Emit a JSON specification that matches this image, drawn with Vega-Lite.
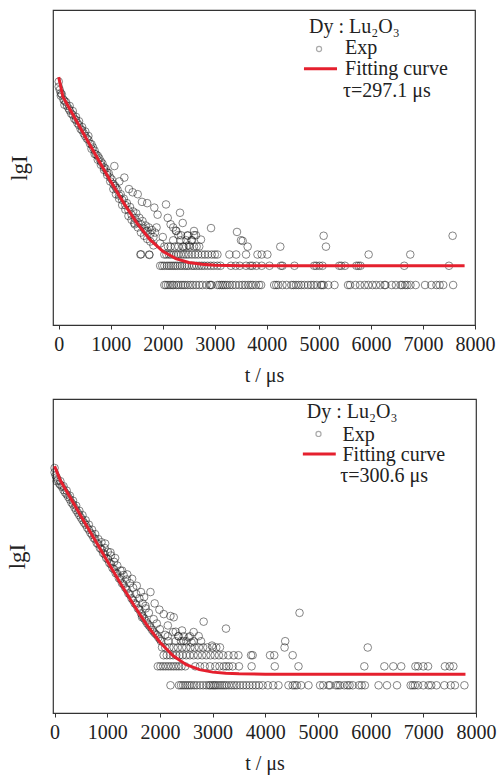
{
"$schema": "https://vega.github.io/schema/vega-lite/v6.json",
"padding": {"left": 5, "top": 9, "right": 4, "bottom": 4},
"background": "white",
"spacing": 12,
"config": {
  "font": "Liberation Serif",
  "view": {"stroke": "#333", "strokeWidth": 1.2},
  "axis": {"grid": false, "labelFont": "Liberation Serif", "titleFont": "Liberation Serif", "labelFontSize": 20, "titleFontSize": 20, "titleFontWeight": "normal", "labelColor": "#222", "titleColor": "#222", "domainColor": "#333", "tickColor": "#333"}
},
"datasets": {
"topPts": [
{"t":0,"lg":3.18},{"t":0,"lg":3.10},{"t":20,"lg":3.05},{"t":40,"lg":3.0},{"t":40,"lg":2.96},{"t":60,"lg":2.98},{"t":90,"lg":2.90},{"t":110,"lg":2.88},{"t":110,"lg":2.82},{"t":140,"lg":2.86},{"t":160,"lg":2.80},{"t":190,"lg":2.76},{"t":210,"lg":2.73},{"t":210,"lg":2.80},{"t":240,"lg":2.68},{"t":270,"lg":2.66},{"t":270,"lg":2.72},{"t":300,"lg":2.60},{"t":330,"lg":2.58},{"t":330,"lg":2.63},{"t":360,"lg":2.53},{"t":390,"lg":2.50},{"t":390,"lg":2.56},{"t":420,"lg":2.44},{"t":450,"lg":2.42},{"t":450,"lg":2.47},{"t":480,"lg":2.37},{"t":510,"lg":2.33},{"t":510,"lg":2.40},{"t":540,"lg":2.29},{"t":570,"lg":2.27},{"t":570,"lg":2.33},{"t":600,"lg":2.21},{"t":630,"lg":2.20},{"t":630,"lg":2.13},{"t":660,"lg":2.15},{"t":690,"lg":2.10},{"t":690,"lg":2.05},{"t":720,"lg":2.04},{"t":750,"lg":2.02},{"t":750,"lg":1.96},{"t":780,"lg":1.98},{"t":810,"lg":1.93},{"t":810,"lg":1.88},{"t":840,"lg":1.90},{"t":870,"lg":1.84},{"t":870,"lg":1.80},{"t":900,"lg":1.82},{"t":930,"lg":1.76},{"t":930,"lg":1.72},{"t":960,"lg":1.75},{"t":990,"lg":1.68},{"t":990,"lg":1.62},{"t":1020,"lg":1.65},{"t":1050,"lg":1.58},{"t":1050,"lg":1.50},{"t":1080,"lg":1.55},{"t":1100,"lg":1.52},{"t":1100,"lg":1.42},{"t":1130,"lg":1.49},{"t":1160,"lg":1.40},{"t":1160,"lg":1.35},{"t":1190,"lg":1.42},{"t":1220,"lg":1.33},{"t":1220,"lg":1.25},{"t":1250,"lg":1.35},{"t":1280,"lg":1.25},{"t":1280,"lg":1.18},{"t":1310,"lg":1.28},{"t":1340,"lg":1.17},{"t":1340,"lg":1.08},{"t":1370,"lg":1.22},{"t":1400,"lg":1.10},{"t":1400,"lg":1.02},{"t":1430,"lg":1.15},{"t":1460,"lg":1.05},{"t":1460,"lg":0.95},{"t":1490,"lg":1.12},{"t":1520,"lg":0.98},{"t":1520,"lg":0.90},{"t":1550,"lg":1.05},{"t":1580,"lg":0.95},{"t":1580,"lg":0.82},{"t":1610,"lg":1.00},{"t":1640,"lg":0.88},{"t":1640,"lg":0.77},{"t":1670,"lg":0.93},{"t":1700,"lg":0.85},{"t":1700,"lg":0.72},{"t":1730,"lg":0.90},{"t":1760,"lg":0.80},{"t":1760,"lg":0.68},{"t":1790,"lg":0.86},{"t":1820,"lg":0.75},{"t":1820,"lg":0.62},{"t":1850,"lg":0.82},
{"t":1069,"lg":1.86},{"t":1165,"lg":1.62},{"t":1261,"lg":1.68},{"t":1350,"lg":1.50},{"t":1420,"lg":1.45},{"t":1518,"lg":1.42},{"t":1600,"lg":1.30},{"t":1700,"lg":1.28},{"t":1837,"lg":1.21},{"t":1900,"lg":1.10},{"t":2062,"lg":1.26},{"t":2095,"lg":1.05},{"t":2150,"lg":0.95},{"t":2200,"lg":0.90},{"t":2331,"lg":1.13},{"t":2383,"lg":0.97},{"t":2250,"lg":0.85},{"t":2300,"lg":0.78},{"t":2479,"lg":0.77},{"t":2550,"lg":0.70},{"t":2600,"lg":0.78},{"t":2734,"lg":0.71},{"t":2927,"lg":0.89},{"t":3426,"lg":0.83},{"t":3503,"lg":0.70},{"t":1677,"lg":0.84},{"t":1453,"lg":0.97},{"t":1582,"lg":0.48},{"t":1742,"lg":0.47},{"t":1950,"lg":0.65},{"t":2000,"lg":0.75},{"t":1880,"lg":0.90},{"t":2400,"lg":0.60},{"t":2500,"lg":0.62},{"t":3535,"lg":0.69},{"t":3631,"lg":0.60},{"t":4258,"lg":0.60},{"t":5091,"lg":0.77},{"t":5136,"lg":0.60},{"t":7570,"lg":0.77},{"t":5956,"lg":0.477},{"t":6756,"lg":0.477},
{"t":2030,"lg":0},{"t":2060,"lg":0},{"t":2100,"lg":0},{"t":2140,"lg":0},{"t":2180,"lg":0},{"t":2210,"lg":0},{"t":2260,"lg":0},{"t":2300,"lg":0},{"t":2350,"lg":0},{"t":2390,"lg":0},{"t":2430,"lg":0},{"t":2480,"lg":0},{"t":2530,"lg":0},{"t":2580,"lg":0},{"t":2640,"lg":0},{"t":2700,"lg":0},{"t":2760,"lg":0},{"t":2840,"lg":0},{"t":2900,"lg":0},{"t":2920,"lg":0},{"t":2940,"lg":0},{"t":3050,"lg":0},{"t":3090,"lg":0},{"t":3130,"lg":0},{"t":3160,"lg":0},{"t":3200,"lg":0},{"t":3240,"lg":0},{"t":3290,"lg":0},{"t":3340,"lg":0},{"t":3400,"lg":0},{"t":3470,"lg":0},{"t":3530,"lg":0},{"t":3580,"lg":0},{"t":3640,"lg":0},{"t":3690,"lg":0},{"t":3730,"lg":0},{"t":3790,"lg":0},{"t":3850,"lg":0},{"t":3890,"lg":0},{"t":4140,"lg":0},{"t":4180,"lg":0},{"t":4220,"lg":0},{"t":4300,"lg":0},{"t":4380,"lg":0},{"t":4470,"lg":0},{"t":4510,"lg":0},{"t":4560,"lg":0},{"t":4610,"lg":0},{"t":4660,"lg":0},{"t":4720,"lg":0},{"t":4790,"lg":0},{"t":4850,"lg":0},{"t":4900,"lg":0},{"t":4960,"lg":0},{"t":5040,"lg":0},{"t":5060,"lg":0},{"t":5090,"lg":0},{"t":5180,"lg":0},{"t":5300,"lg":0},{"t":5560,"lg":0},{"t":5600,"lg":0},{"t":5700,"lg":0},{"t":5790,"lg":0},{"t":5880,"lg":0},{"t":5950,"lg":0},{"t":6030,"lg":0},{"t":6100,"lg":0},{"t":6180,"lg":0},{"t":6260,"lg":0},{"t":6280,"lg":0},{"t":6400,"lg":0},{"t":6480,"lg":0},{"t":6570,"lg":0},{"t":6600,"lg":0},{"t":6660,"lg":0},{"t":6700,"lg":0},{"t":6760,"lg":0},{"t":6860,"lg":0},{"t":7040,"lg":0},{"t":7160,"lg":0},{"t":7260,"lg":0},{"t":7320,"lg":0},{"t":7390,"lg":0},{"t":7580,"lg":0},
{"t":1950,"lg":0.301},{"t":1990,"lg":0.301},{"t":2030,"lg":0.301},{"t":2080,"lg":0.301},{"t":2120,"lg":0.301},{"t":2160,"lg":0.301},{"t":2200,"lg":0.301},{"t":2240,"lg":0.301},{"t":2280,"lg":0.301},{"t":2330,"lg":0.301},{"t":2370,"lg":0.301},{"t":2420,"lg":0.301},{"t":2460,"lg":0.301},{"t":2500,"lg":0.301},{"t":2560,"lg":0.301},{"t":2600,"lg":0.301},{"t":2650,"lg":0.301},{"t":2700,"lg":0.301},{"t":2750,"lg":0.301},{"t":2800,"lg":0.301},{"t":2860,"lg":0.301},{"t":2920,"lg":0.301},{"t":2980,"lg":0.301},{"t":3050,"lg":0.301},{"t":3110,"lg":0.301},{"t":3310,"lg":0.301},{"t":3400,"lg":0.301},{"t":3480,"lg":0.301},{"t":3600,"lg":0.301},{"t":3680,"lg":0.301},{"t":3720,"lg":0.301},{"t":3800,"lg":0.301},{"t":3900,"lg":0.301},{"t":4050,"lg":0.301},{"t":4270,"lg":0.301},{"t":4300,"lg":0.301},{"t":4530,"lg":0.301},{"t":4910,"lg":0.301},{"t":4950,"lg":0.301},{"t":5010,"lg":0.301},{"t":5070,"lg":0.301},{"t":5390,"lg":0.301},{"t":5430,"lg":0.301},{"t":5500,"lg":0.301},{"t":5720,"lg":0.301},{"t":5760,"lg":0.301},{"t":5800,"lg":0.301},{"t":6640,"lg":0.301},{"t":7500,"lg":0.301},
{"t":1570,"lg":0.477},{"t":1740,"lg":0.477},{"t":2030,"lg":0.477},{"t":2070,"lg":0.477},{"t":2120,"lg":0.477},{"t":2160,"lg":0.477},{"t":2210,"lg":0.477},{"t":2260,"lg":0.477},{"t":2300,"lg":0.477},{"t":2350,"lg":0.477},{"t":2400,"lg":0.477},{"t":2450,"lg":0.477},{"t":2500,"lg":0.477},{"t":2560,"lg":0.477},{"t":2620,"lg":0.477},{"t":2680,"lg":0.477},{"t":2750,"lg":0.477},{"t":2810,"lg":0.477},{"t":2870,"lg":0.477},{"t":2940,"lg":0.477},{"t":3000,"lg":0.477},{"t":3050,"lg":0.477},{"t":3280,"lg":0.477},{"t":3410,"lg":0.477},{"t":3600,"lg":0.477},{"t":3820,"lg":0.477},{"t":3900,"lg":0.477},{"t":4010,"lg":0.477},
{"t":2030,"lg":0.602},{"t":2100,"lg":0.602},{"t":2150,"lg":0.602},{"t":2230,"lg":0.602},{"t":2300,"lg":0.602},{"t":2380,"lg":0.602},{"t":2450,"lg":0.602},{"t":2520,"lg":0.602},{"t":2600,"lg":0.602},{"t":2650,"lg":0.602},{"t":2700,"lg":0.602},
{"t":2200,"lg":0.699},{"t":2340,"lg":0.699},{"t":2450,"lg":0.699},{"t":2560,"lg":0.699},
{"t":2350,"lg":0.778},{"t":2478,"lg":0.778},{"t":2638,"lg":0.778},{"t":2260,"lg":0.845},{"t":2600,"lg":0.845}
],
"topFit": [
{"t":0,"lg":3.25},{"t":80,"lg":2.944},{"t":250,"lg":2.696},{"t":500,"lg":2.333},{"t":750,"lg":1.973},{"t":1000,"lg":1.620},{"t":1250,"lg":1.281},{"t":1500,"lg":0.972},{"t":1750,"lg":0.714},{"t":2000,"lg":0.528},{"t":2250,"lg":0.413},{"t":2500,"lg":0.353},{"t":2750,"lg":0.324},{"t":3000,"lg":0.311},{"t":3500,"lg":0.303},{"t":4000,"lg":0.301},{"t":5000,"lg":0.301},{"t":7800,"lg":0.301}
],
"botPts": [
{"t":0,"lg":3.45},{"t":0,"lg":3.38},{"t":20,"lg":3.33},{"t":40,"lg":3.30},{"t":40,"lg":3.24},{"t":60,"lg":3.26},{"t":90,"lg":3.20},{"t":110,"lg":3.18},{"t":110,"lg":3.24},{"t":140,"lg":3.15},{"t":170,"lg":3.10},{"t":170,"lg":3.16},{"t":200,"lg":3.06},{"t":230,"lg":3.03},{"t":230,"lg":3.09},{"t":260,"lg":2.99},{"t":290,"lg":2.95},{"t":290,"lg":3.01},{"t":320,"lg":2.90},{"t":350,"lg":2.87},{"t":350,"lg":2.93},{"t":380,"lg":2.82},{"t":410,"lg":2.78},{"t":410,"lg":2.85},{"t":440,"lg":2.74},{"t":470,"lg":2.70},{"t":470,"lg":2.77},{"t":500,"lg":2.66},{"t":530,"lg":2.62},{"t":530,"lg":2.70},{"t":560,"lg":2.58},{"t":590,"lg":2.55},{"t":590,"lg":2.62},{"t":620,"lg":2.50},{"t":650,"lg":2.47},{"t":650,"lg":2.55},{"t":680,"lg":2.42},{"t":710,"lg":2.39},{"t":710,"lg":2.47},{"t":740,"lg":2.34},{"t":770,"lg":2.32},{"t":770,"lg":2.40},{"t":800,"lg":2.26},{"t":830,"lg":2.24},{"t":830,"lg":2.32},{"t":860,"lg":2.18},{"t":890,"lg":2.16},{"t":890,"lg":2.27},{"t":920,"lg":2.10},{"t":950,"lg":2.08},{"t":950,"lg":2.18},{"t":980,"lg":2.02},{"t":1010,"lg":2.00},{"t":1010,"lg":2.12},{"t":1040,"lg":1.94},{"t":1070,"lg":1.92},{"t":1070,"lg":2.06},{"t":1100,"lg":1.86},{"t":1130,"lg":1.84},{"t":1130,"lg":1.96},{"t":1160,"lg":1.78},{"t":1190,"lg":1.77},{"t":1190,"lg":1.90},{"t":1220,"lg":1.70},{"t":1250,"lg":1.68},{"t":1250,"lg":1.82},{"t":1280,"lg":1.62},{"t":1310,"lg":1.60},{"t":1310,"lg":1.75},{"t":1340,"lg":1.55},{"t":1370,"lg":1.52},{"t":1370,"lg":1.68},{"t":1400,"lg":1.46},{"t":1430,"lg":1.44},{"t":1430,"lg":1.62},{"t":1460,"lg":1.38},{"t":1490,"lg":1.35},{"t":1490,"lg":1.55},{"t":1520,"lg":1.30},{"t":1550,"lg":1.28},{"t":1550,"lg":1.45},{"t":1580,"lg":1.22},{"t":1610,"lg":1.20},{"t":1610,"lg":1.38},{"t":1640,"lg":1.14},{"t":1670,"lg":1.10},{"t":1670,"lg":1.30},{"t":1700,"lg":1.06},{"t":1730,"lg":1.02},{"t":1730,"lg":1.22},{"t":1760,"lg":0.98},{"t":1790,"lg":0.95},{"t":1790,"lg":1.15},{"t":1820,"lg":0.92},{"t":1820,"lg":1.48},{"t":1850,"lg":0.88},{"t":1880,"lg":0.85},{"t":1880,"lg":1.05},{"t":1910,"lg":0.82},{"t":1940,"lg":0.80},{"t":1940,"lg":0.98},{"t":1970,"lg":0.76},{"t":2000,"lg":0.73},{"t":2000,"lg":0.89},
{"t":960,"lg":2.25},{"t":1061,"lg":2.11},{"t":1150,"lg":2.02},{"t":1282,"lg":1.82},{"t":1380,"lg":1.76},{"t":1472,"lg":1.69},{"t":1560,"lg":1.58},{"t":1640,"lg":1.48},{"t":1700,"lg":1.40},{"t":1900,"lg":1.30},{"t":1990,"lg":1.20},{"t":1725,"lg":1.26},{"t":1661,"lg":1.08},{"t":2072,"lg":1.13},{"t":2100,"lg":0.80},{"t":2150,"lg":0.95},{"t":2199,"lg":1.10},{"t":2262,"lg":1.08},{"t":2300,"lg":0.85},{"t":2350,"lg":0.78},{"t":2419,"lg":0.87},{"t":2450,"lg":0.70},{"t":2546,"lg":0.76},{"t":2600,"lg":0.68},{"t":2736,"lg":0.78},{"t":2830,"lg":1.01},{"t":2988,"lg":0.63},{"t":3254,"lg":0.90},{"t":4650,"lg":1.15},{"t":4378,"lg":0.70},{"t":4366,"lg":0.60},{"t":5945,"lg":0.60},
{"t":2200,"lg":0},{"t":2360,"lg":0},{"t":2400,"lg":0},{"t":2440,"lg":0},{"t":2480,"lg":0},{"t":2520,"lg":0},{"t":2560,"lg":0},{"t":2600,"lg":0},{"t":2650,"lg":0},{"t":2700,"lg":0},{"t":2760,"lg":0},{"t":2820,"lg":0},{"t":2880,"lg":0},{"t":2930,"lg":0},{"t":2960,"lg":0},{"t":3000,"lg":0},{"t":3030,"lg":0},{"t":3060,"lg":0},{"t":3100,"lg":0},{"t":3140,"lg":0},{"t":3180,"lg":0},{"t":3220,"lg":0},{"t":3260,"lg":0},{"t":3310,"lg":0},{"t":3360,"lg":0},{"t":3410,"lg":0},{"t":3460,"lg":0},{"t":3520,"lg":0},{"t":3580,"lg":0},{"t":3640,"lg":0},{"t":3700,"lg":0},{"t":3760,"lg":0},{"t":3820,"lg":0},{"t":3880,"lg":0},{"t":3950,"lg":0},{"t":4050,"lg":0},{"t":4150,"lg":0},{"t":4250,"lg":0},{"t":4440,"lg":0},{"t":4520,"lg":0},{"t":4560,"lg":0},{"t":4600,"lg":0},{"t":4680,"lg":0},{"t":4820,"lg":0},{"t":5040,"lg":0},{"t":5100,"lg":0},{"t":5200,"lg":0},{"t":5230,"lg":0},{"t":5340,"lg":0},{"t":5380,"lg":0},{"t":5420,"lg":0},{"t":5500,"lg":0},{"t":5560,"lg":0},{"t":5600,"lg":0},{"t":5660,"lg":0},{"t":5780,"lg":0},{"t":5830,"lg":0},{"t":5890,"lg":0},{"t":6150,"lg":0},{"t":6310,"lg":0},{"t":6500,"lg":0},{"t":6760,"lg":0},{"t":6800,"lg":0},{"t":6840,"lg":0},{"t":6900,"lg":0},{"t":7000,"lg":0},{"t":7100,"lg":0},{"t":7150,"lg":0},{"t":7250,"lg":0},{"t":7400,"lg":0},{"t":7520,"lg":0},{"t":7600,"lg":0},{"t":7780,"lg":0},
{"t":1960,"lg":0.301},{"t":2010,"lg":0.301},{"t":2060,"lg":0.301},{"t":2110,"lg":0.301},{"t":2160,"lg":0.301},{"t":2210,"lg":0.301},{"t":2260,"lg":0.301},{"t":2310,"lg":0.301},{"t":2360,"lg":0.301},{"t":2410,"lg":0.301},{"t":2480,"lg":0.301},{"t":2670,"lg":0.301},{"t":2760,"lg":0.301},{"t":2850,"lg":0.301},{"t":2950,"lg":0.301},{"t":3050,"lg":0.301},{"t":3130,"lg":0.301},{"t":3210,"lg":0.301},{"t":3260,"lg":0.301},{"t":3310,"lg":0.301},{"t":3380,"lg":0.301},{"t":3500,"lg":0.301},{"t":3740,"lg":0.301},{"t":4180,"lg":0.301},{"t":4630,"lg":0.301},{"t":5880,"lg":0.301},{"t":6260,"lg":0.301},{"t":6430,"lg":0.301},{"t":6580,"lg":0.301},{"t":6850,"lg":0.301},{"t":6900,"lg":0.301},{"t":7000,"lg":0.301},{"t":7090,"lg":0.301},{"t":7410,"lg":0.301},{"t":7500,"lg":0.301},{"t":7570,"lg":0.301},
{"t":2070,"lg":0.477},{"t":2130,"lg":0.477},{"t":2190,"lg":0.477},{"t":2250,"lg":0.477},{"t":2310,"lg":0.477},{"t":2370,"lg":0.477},{"t":2430,"lg":0.477},{"t":2500,"lg":0.477},{"t":2570,"lg":0.477},{"t":2640,"lg":0.477},{"t":2720,"lg":0.477},{"t":2800,"lg":0.477},{"t":2880,"lg":0.477},{"t":2960,"lg":0.477},{"t":3040,"lg":0.477},{"t":3120,"lg":0.477},{"t":3200,"lg":0.477},{"t":3300,"lg":0.477},{"t":3400,"lg":0.477},{"t":3490,"lg":0.477},{"t":3730,"lg":0.477},{"t":3760,"lg":0.477},{"t":4090,"lg":0.477},{"t":4170,"lg":0.477},{"t":4520,"lg":0.477},
{"t":2040,"lg":0.602},{"t":2100,"lg":0.602},{"t":2180,"lg":0.602},{"t":2260,"lg":0.602},{"t":2340,"lg":0.602},{"t":2420,"lg":0.602},{"t":2500,"lg":0.602},{"t":2580,"lg":0.602},{"t":2660,"lg":0.602},{"t":2740,"lg":0.602},{"t":2820,"lg":0.602},{"t":2900,"lg":0.602},{"t":3000,"lg":0.602},{"t":3070,"lg":0.602},{"t":3140,"lg":0.602},
{"t":2020,"lg":0.699},{"t":2160,"lg":0.699},{"t":2300,"lg":0.699},{"t":2400,"lg":0.699},{"t":2500,"lg":0.699},{"t":2640,"lg":0.699},{"t":2780,"lg":0.699},
{"t":2150,"lg":0.778},{"t":2350,"lg":0.778},{"t":2450,"lg":0.778},{"t":2570,"lg":0.778},{"t":2250,"lg":0.845},{"t":2640,"lg":0.845}
],
"botFit": [
{"t":0,"lg":3.48},{"t":110,"lg":3.251},{"t":250,"lg":3.049},{"t":500,"lg":2.689},{"t":750,"lg":2.330},{"t":1000,"lg":1.972},{"t":1250,"lg":1.620},{"t":1500,"lg":1.279},{"t":1750,"lg":0.960},{"t":2000,"lg":0.683},{"t":2250,"lg":0.469},{"t":2500,"lg":0.328},{"t":2750,"lg":0.249},{"t":3000,"lg":0.209},{"t":3250,"lg":0.191},{"t":3500,"lg":0.183},{"t":4000,"lg":0.177},{"t":5000,"lg":0.176},{"t":7800,"lg":0.176}
]
},
"vconcat": [
{
  "width": 422, "height": 315,
  "encoding": {
    "x": {"type": "quantitative", "scale": {"domain": [-110, 8000], "nice": false, "zero": false},
      "axis": {"title": "t / μs", "format": "d", "values": [0,1000,2000,3000,4000,5000,6000,7000,8000], "tickSize": 4, "labelPadding": 5, "titlePadding": 11, "labelFlush": false}},
    "y": {"type": "quantitative", "scale": {"domain": [-0.625, 4.3], "nice": false, "zero": false},
      "axis": {"title": "lgI", "titleFontSize": 23, "labels": false, "ticks": false, "domain": false, "titlePadding": 22}}
  },
  "layer": [
    {"data": {"name": "topPts"}, "mark": {"type": "point", "shape": "circle", "filled": false, "size": 58, "stroke": "#1a1a1a", "strokeWidth": 1, "strokeOpacity": 0.75},
     "encoding": {"x": {"field": "t", "type": "quantitative"}, "y": {"field": "lg", "type": "quantitative"}}},
    {"data": {"name": "topFit"}, "mark": {"type": "line", "color": "#e5202e", "strokeWidth": 3},
     "encoding": {"x": {"field": "t", "type": "quantitative"}, "y": {"field": "lg", "type": "quantitative"}}},
    {"data": {"values": [{}]}, "mark": {"type": "text", "text": "Dy : Lu₂O₃", "align": "left", "baseline": "middle", "fontSize": 20, "color": "#222"},
     "encoding": {"x": {"datum": 4811}, "y": {"datum": 4.04}}},
    {"data": {"values": [{}]}, "mark": {"type": "point", "shape": "circle", "filled": false, "size": 26, "stroke": "#888", "strokeWidth": 1.2},
     "encoding": {"x": {"datum": 5003}, "y": {"datum": 3.69}}},
    {"data": {"values": [{}]}, "mark": {"type": "text", "text": "Exp", "align": "left", "baseline": "middle", "fontSize": 20, "color": "#222"},
     "encoding": {"x": {"datum": 5502}, "y": {"datum": 3.71}}},
    {"data": {"values": [{}]}, "mark": {"type": "rule", "color": "#e5202e", "strokeWidth": 3},
     "encoding": {"x": {"datum": 4713}, "x2": {"datum": 5348}, "y": {"datum": 3.38}}},
    {"data": {"values": [{}]}, "mark": {"type": "text", "text": "Fitting curve", "align": "left", "baseline": "middle", "fontSize": 20, "color": "#222"},
     "encoding": {"x": {"datum": 5502}, "y": {"datum": 3.375}}},
    {"data": {"values": [{}]}, "mark": {"type": "text", "text": "τ=297.1  μs", "align": "left", "baseline": "middle", "fontSize": 20, "color": "#222"},
     "encoding": {"x": {"datum": 5463}, "y": {"datum": 3.03}}}
  ]
},
{
  "width": 423, "height": 314,
  "encoding": {
    "x": {"type": "quantitative", "scale": {"domain": [-30, 8000], "nice": false, "zero": false},
      "axis": {"title": "t / μs", "format": "d", "values": [0,1000,2000,3000,4000,5000,6000,7000,8000], "tickSize": 4, "labelPadding": 5, "titlePadding": 11, "labelFlush": false}},
    "y": {"type": "quantitative", "scale": {"domain": [-0.44, 4.545], "nice": false, "zero": false},
      "axis": {"title": "lgI", "titleFontSize": 23, "labels": false, "ticks": false, "domain": false, "titlePadding": 24}}
  },
  "layer": [
    {"data": {"name": "botPts"}, "mark": {"type": "point", "shape": "circle", "filled": false, "size": 58, "stroke": "#1a1a1a", "strokeWidth": 1, "strokeOpacity": 0.75},
     "encoding": {"x": {"field": "t", "type": "quantitative"}, "y": {"field": "lg", "type": "quantitative"}}},
    {"data": {"name": "botFit"}, "mark": {"type": "line", "color": "#e5202e", "strokeWidth": 3},
     "encoding": {"x": {"field": "t", "type": "quantitative"}, "y": {"field": "lg", "type": "quantitative"}}},
    {"data": {"values": [{}]}, "mark": {"type": "text", "text": "Dy : Lu₂O₃", "align": "left", "baseline": "middle", "fontSize": 20, "color": "#222"},
     "encoding": {"x": {"datum": 4789}, "y": {"datum": 4.34}}},
    {"data": {"values": [{}]}, "mark": {"type": "point", "shape": "circle", "filled": false, "size": 26, "stroke": "#888", "strokeWidth": 1.2},
     "encoding": {"x": {"datum": 5010}, "y": {"datum": 3.99}}},
    {"data": {"values": [{}]}, "mark": {"type": "text", "text": "Exp", "align": "left", "baseline": "middle", "fontSize": 20, "color": "#222"},
     "encoding": {"x": {"datum": 5465}, "y": {"datum": 3.97}}},
    {"data": {"values": [{}]}, "mark": {"type": "rule", "color": "#e5202e", "strokeWidth": 3},
     "encoding": {"x": {"datum": 4713}, "x2": {"datum": 5338}, "y": {"datum": 3.67}}},
    {"data": {"values": [{}]}, "mark": {"type": "text", "text": "Fitting curve", "align": "left", "baseline": "middle", "fontSize": 20, "color": "#222"},
     "encoding": {"x": {"datum": 5465}, "y": {"datum": 3.655}}},
    {"data": {"values": [{}]}, "mark": {"type": "text", "text": "τ=300.6  μs", "align": "left", "baseline": "middle", "fontSize": 20, "color": "#222"},
     "encoding": {"x": {"datum": 5422}, "y": {"datum": 3.33}}}
  ]
}
]
}
